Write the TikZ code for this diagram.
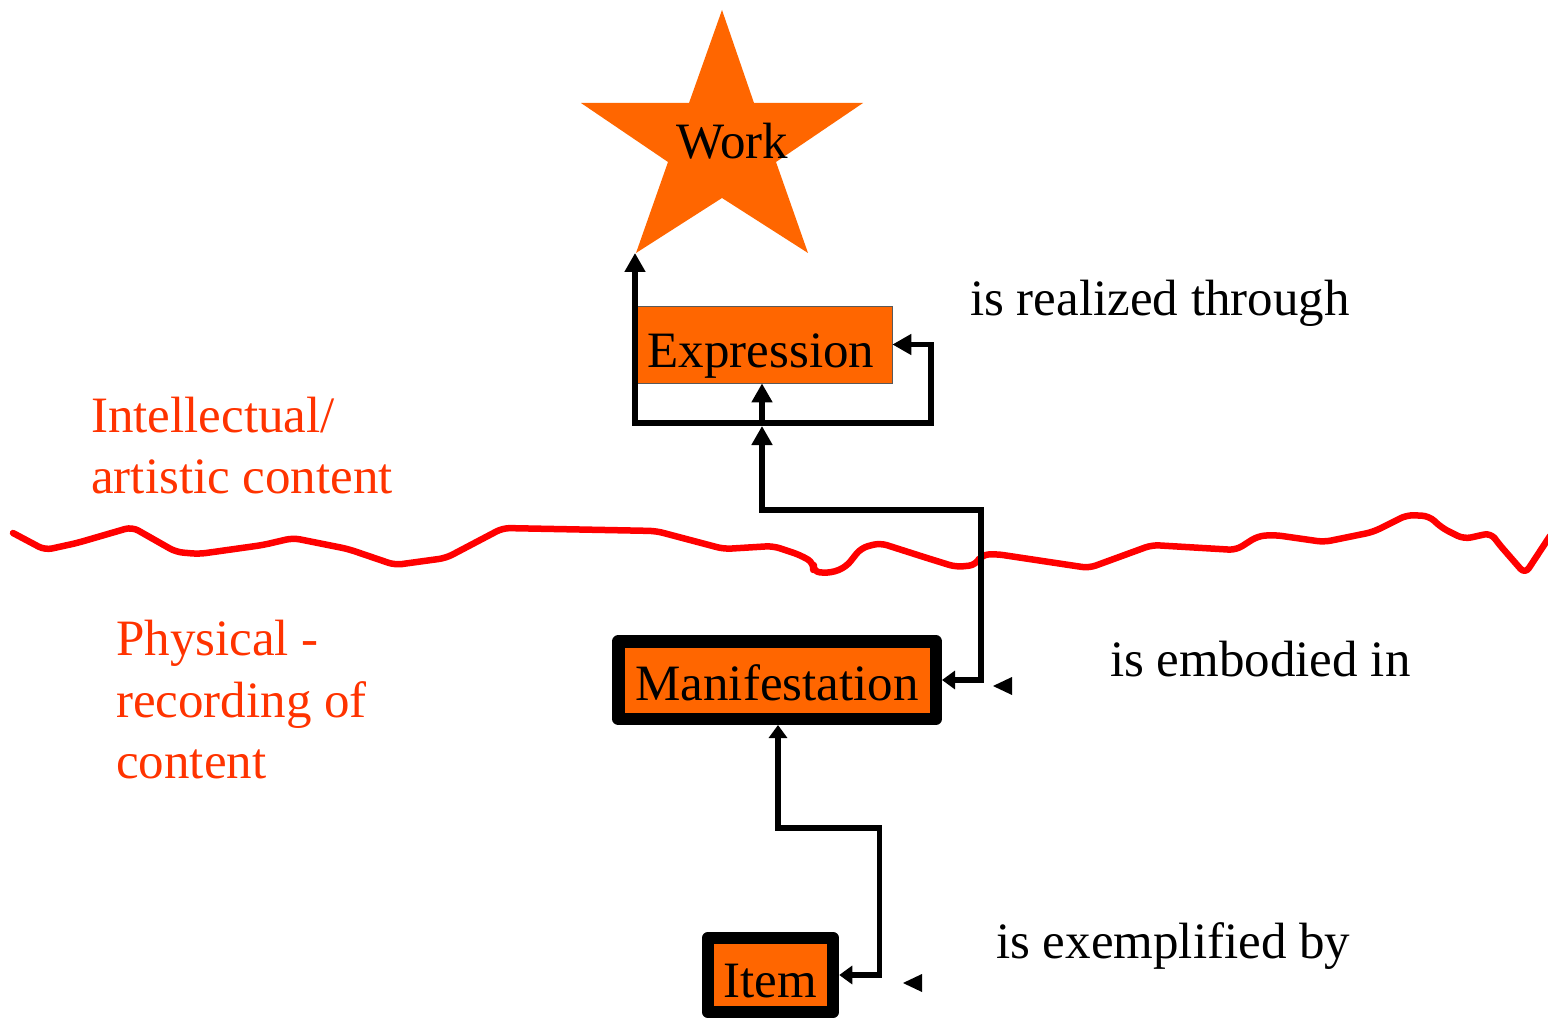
\documentclass[tikz,border=0pt]{standalone}
\usepackage{fontspec}
\setmainfont{Liberation Serif}
\usetikzlibrary{arrows.meta}
\definecolor{frbrorange}{HTML}{FF6600}
\definecolor{zonered}{HTML}{FF3300}
\tikzset{
  bigtip/.tip={Triangle[length=19pt,width=20pt]},
  smalltip/.tip={Triangle[length=13pt,width=18pt]},
  bigfont/.style={font=\fontsize{51}{61}\selectfont},
  entity/.style={bigfont, fill=frbrorange, inner sep=0pt},
  thinbox/.style={entity, draw=black!65, line width=0.8pt},
  heavybox/.style={entity, draw=black, line width=12.5pt, line join=round},
  link/.style={draw=black, line width=5.5pt, line join=miter},
  relname/.style={bigfont, anchor=base west, inner sep=0pt},
  zone/.style={relname, text=zonered},
  divider/.style={draw=red, line width=6.5pt, line join=round, line cap=round, rounded corners=7pt},
  freetip/.style={fill=black},
}
\begin{document}
\begin{tikzpicture}[x=1pt, y=-1pt]
\useasboundingbox (0,0) rectangle (1548,1019);

% boundary between the abstract and the physical levels
\draw[divider] (13,533) -- (45,550) -- (77,543) -- (132,527) -- (176,552) -- (199,554)
  -- (263,545) -- (293,538) -- (348,549) -- (395,565) -- (446,558) -- (503,528)
  -- (656,531) -- (724,549) -- (773,546) -- (800,555) -- (814,563) -- (813,572)
  -- (831,573) -- (846,567) -- (861,548) -- (880,543) -- (927,558) -- (956,567)
  -- (976,565) -- (981,555) -- (996,554) -- (1089,568) -- (1152,545) -- (1236,550)
  -- (1258,536) -- (1275,535) -- (1324,542) -- (1373,532) -- (1407,515) -- (1429,516)
  -- (1442,528) -- (1464,539) -- (1491,533) -- (1498,543) -- (1525,574) -- (1550,536);

% Work: five-pointed star
\fill[frbrorange] (722,10) -- (754,103) -- (863,103) -- (776,162) -- (808,253)
  -- (722,198) -- (636,253) -- (668,162) -- (581,103) -- (689,103) -- cycle;
\coordinate (workTip) at (635,253);
\node[relname] (work) at (676,159) {Work};

% entity boxes
\node[thinbox, minimum width=255pt, minimum height=77pt, text height=61pt, text depth=16pt]
  (expr) at (764.5,344.5) {Expression\hspace*{7pt}};
\node[heavybox, minimum width=317.5pt, minimum height=77.5pt, text height=58.75pt, text depth=18.75pt]
  (manif) at (777,680) {Manifestation};
\node[heavybox, minimum width=125pt, minimum height=74pt, text height=59pt, text depth=15pt]
  (item) at (770.5,975) {Item};

% relationships
\coordinate (loopL) at (635,423);
\coordinate (loopR) at (931,423);
\coordinate (hubE) at (762,423);
\coordinate (bendM) at (981,510);
\coordinate (bendI) at (778,828);

\draw[link, bigtip-bigtip] (expr.east) -| (loopR) -- (loopL) -- (workTip);
\draw[link, -bigtip] (hubE) -- (hubE |- expr.south);
\draw[link, smalltip-bigtip] (manif.east) -| (bendM) -| ([yshift=-3pt]hubE);
\draw[link, smalltip-smalltip] (item.east) -- ++(40,0) |- (bendI) -- (bendI |- manif.south);

% loose arrowheads next to the relationships
\fill[freetip] (1012,677) -- (1012,695) -- (993,686) -- cycle;
\fill[freetip] (922,974) -- (922,992) -- (903,983) -- cycle;

% relationship names
\node[relname] (realized) at (970,316) {is realized through};
\node[relname] (embodied) at (1110,676) {is embodied in};
\node[relname] (exemplified) at (996,958) {is exemplified by};

% level names
\node[zone] (intelA) at (91,432) {Intellectual/};
\node[zone] (intelB) at (91,493) {artistic content};
\node[zone] (physA) at (116,655) {Physical -};
\node[zone] (physB) at (116,717) {recording of};
\node[zone] (physC) at (116,778) {content};
\end{tikzpicture}
\end{document}
